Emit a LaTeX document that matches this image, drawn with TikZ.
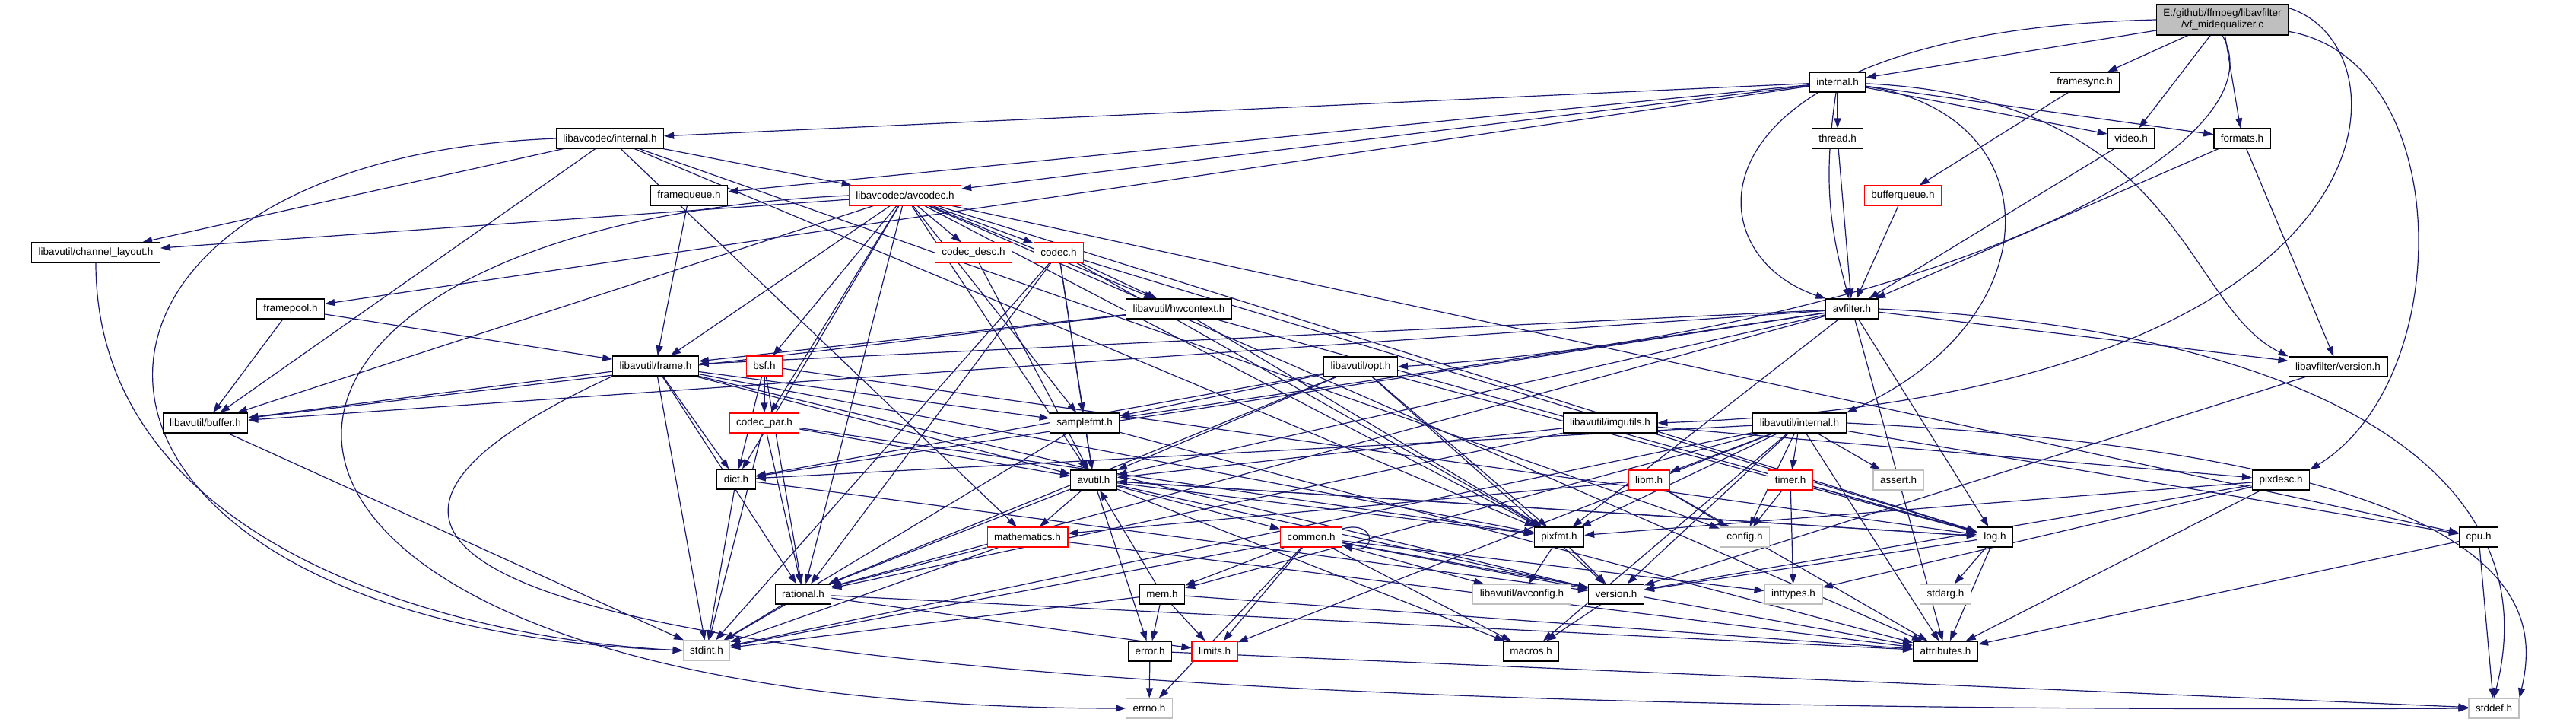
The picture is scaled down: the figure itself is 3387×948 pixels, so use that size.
\documentclass[tikz,border=0pt]{standalone}
\usepackage{fontspec}
\setmainfont{Liberation Sans}
\usetikzlibrary{arrows.meta,backgrounds}
\definecolor{edgeblue}{HTML}{191970}
\definecolor{nodered}{HTML}{FF0000}
\definecolor{nodegray}{HTML}{BFBFBF}

\begin{document}
\begin{tikzpicture}[x=1pt,y=-1pt,font=\fontsize{13.5}{15}\selectfont,
  file/.style={draw=black, fill=white, line width=1.2pt, inner xsep=9pt, inner ysep=0pt, minimum height=26pt},
  redfile/.style={file, draw=nodered},
  sysfile/.style={file, draw=nodegray},
  edge/.style={draw=edgeblue, line width=1.2pt, -{Triangle[length=13pt,width=9pt]}}]
  \useasboundingbox (0,0) rectangle (3387,948);
  % files, one row per rank
  \node[file, fill=nodegray, align=center, minimum height=40pt] (top) at (2922,26) {E:/github/ffmpeg/libavfilter\\/vf\_midequalizer.c};
  \node[file] (internal) at (2416,108) {internal.h};
  \node[file] (framesync) at (2741,108) {framesync.h};
  \node[file] (lavcinternal) at (802,182) {libavcodec/internal.h};
  \node[file] (thread) at (2416,182) {thread.h};
  \node[file] (video) at (2802,182) {video.h};
  \node[file] (formats) at (2948,182) {formats.h};
  \node[file] (framequeue) at (906,257) {framequeue.h};
  \node[redfile] (avcodec) at (1190,257) {libavcodec/avcodec.h};
  \node[redfile] (bufferqueue) at (2502,257) {bufferqueue.h};
  \node[file] (chlayout) at (126,332) {libavutil/channel\_layout.h};
  \node[redfile] (codecdesc) at (1280,332) {codec\_desc.h};
  \node[redfile] (codec) at (1392,332) {codec.h};
  \node[file] (framepool) at (382,406) {framepool.h};
  \node[file] (hwcontext) at (1550,406) {libavutil/hwcontext.h};
  \node[file] (avfilter) at (2435,406) {avfilter.h};
  \node[file] (frame) at (862,481) {libavutil/frame.h};
  \node[redfile] (bsf) at (1005,481) {bsf.h};
  \node[file] (opt) at (1789,482) {libavutil/opt.h};
  \node[file] (lavfiversion) at (3074,482) {libavfilter/version.h};
  \node[file] (buffer) at (270,556) {libavutil/buffer.h};
  \node[redfile] (codecpar) at (1005,556) {codec\_par.h};
  \node[file] (samplefmt) at (1426,556) {samplefmt.h};
  \node[file] (imgutils) at (2117,556) {libavutil/imgutils.h};
  \node[file] (lavuinternal) at (2366,556) {libavutil/internal.h};
  \node[file] (dict) at (968,630) {dict.h};
  \node[file] (avutil) at (1438,631) {avutil.h};
  \node[redfile] (libm) at (2168,631) {libm.h};
  \node[redfile] (timer) at (2354,631) {timer.h};
  \node[sysfile] (assert) at (2496,631) {assert.h};
  \node[file] (pixdesc) at (2999,631) {pixdesc.h};
  \node[redfile] (mathematics) at (1351,706) {mathematics.h};
  \node[redfile] (common) at (1724,706) {common.h};
  \node[file] (pixfmt) at (2050,706) {pixfmt.h};
  \node[sysfile] (config) at (2294,706) {config.h};
  \node[file] (log) at (2623,706) {log.h};
  \node[file] (cpu) at (3259,706) {cpu.h};
  \node[file] (rational) at (1056,781) {rational.h};
  \node[file] (mem) at (1528,781) {mem.h};
  \node[sysfile] (avconfig) at (2001,781) {libavutil/avconfig.h};
  \node[file] (version) at (2125,781) {version.h};
  \node[sysfile] (inttypes) at (2358,781) {inttypes.h};
  \node[sysfile] (stdarg) at (2558,781) {stdarg.h};
  \node[sysfile] (stdint) at (929,855) {stdint.h};
  \node[file] (error) at (1512,856) {error.h};
  \node[redfile] (limits) at (1597,856) {limits.h};
  \node[file] (macros) at (2013,856) {macros.h};
  \node[file] (attributes) at (2558,856) {attributes.h};
  \node[sysfile] (errno) at (1511,931) {errno.h};
  \node[sysfile] (stddef) at (3279,931) {stddef.h};

  \begin{scope}[on background layer]
  \fill[white] (0,0) rectangle (3387,948);
  % includes, grouped by including file
  \foreach \t in {internal,framesync,video,formats} \draw[edge] (top) -- (\t);
  \draw[edge] (top.west) .. controls (2215,40) and (2215,330) .. (avfilter.north west);
  \draw[edge] (top.south) .. controls (3010,200) and (2500,440) .. (opt.east);
  \draw[edge] (top.10) .. controls (3175,60) and (3175,520) .. (imgutils.east);
  \draw[edge] (top.-10) .. controls (3230,80) and (3230,500) .. (pixdesc.north east);
  \foreach \t in {thread,video,formats,framepool,framequeue,avcodec,lavcinternal} \draw[edge] (internal) -- (\t);
  \draw[edge] (internal) to[bend right=12] (avfilter);
  \draw[edge] (internal) .. controls (2700,150) and (2700,420) .. (lavuinternal.north east);
  \draw[edge] (internal) .. controls (2870,130) and (2870,400) .. (lavfiversion.north west);
  \draw[edge] (framesync) -- (bufferqueue);
  \draw[edge] (bufferqueue) -- (avfilter);
  \draw[edge] (thread) -- (avfilter);
  \draw[edge] (video) -- (avfilter);
  \foreach \t in {avfilter,lavfiversion} \draw[edge] (formats) -- (\t);
  \foreach \t in {buffer,chlayout,avcodec,mathematics,pixfmt,config} \draw[edge] (lavcinternal) -- (\t);
  \draw[edge] (lavcinternal.west) .. controls (0,210) and (0,820) .. (stdint.west);
  \draw[edge] (framequeue) -- (frame);
  \foreach \t in {buffer,frame} \draw[edge] (framepool) -- (\t);
  \foreach \t in {samplefmt,attributes,avutil,buffer,cpu,chlayout,dict,frame,hwcontext,log,pixfmt,rational,bsf,codec,codecdesc,codecpar} \draw[edge] (avcodec) -- (\t);
  \draw[edge] (avcodec.west) .. controls (175,300) and (175,930) .. (errno.west);
  \draw[edge] (chlayout.south) .. controls (126,720) and (600,840) .. (stdint.west);
  \draw[edge] (codecdesc) -- (avutil);
  \foreach \t in {stdint,avutil,hwcontext,log,pixfmt,rational,samplefmt} \draw[edge] (codec) -- (\t);
  \foreach \t in {buffer,frame,log,pixfmt} \draw[edge] (hwcontext) -- (\t);
  \foreach \t in {attributes,avutil,buffer,dict,frame,log,samplefmt,pixfmt,rational,lavfiversion} \draw[edge] (avfilter) -- (\t);
  \draw[edge] (avfilter.east) .. controls (3000,430) and (3360,600) .. (stddef.north);
  \foreach \t in {stdint,avutil,buffer,dict,rational,samplefmt,pixfmt,version} \draw[edge] (frame) -- (\t);
  \draw[edge] (frame.south west) .. controls (360,700) and (360,945) .. (stddef.west);
  \foreach \t in {dict,log,rational,codecpar} \draw[edge] (bsf) -- (\t);
  \foreach \t in {rational,avutil,dict,log,pixfmt,samplefmt,version} \draw[edge] (opt) -- (\t);
  \draw[edge] (lavfiversion) -- (version);
  \draw[edge] (buffer) -- (stdint);
  \foreach \t in {stdint,avutil,rational,pixfmt} \draw[edge] (codecpar) -- (\t);
  \foreach \t in {stdint,avutil,attributes} \draw[edge] (samplefmt) -- (\t);
  \foreach \t in {avutil,pixdesc,rational} \draw[edge] (imgutils) -- (\t);
  \foreach \t in {limits,stdint,assert,config,attributes,timer,cpu,dict,macros,mem,pixfmt,version,libm} \draw[edge] (lavuinternal) -- (\t);
  \draw[edge] (lavuinternal.east) .. controls (3330,600) and (3340,800) .. (stddef.north east);
  \foreach \t in {stdint,version} \draw[edge] (dict) -- (\t);
  \foreach \t in {common,error,rational,version,macros,mathematics,log,pixfmt} \draw[edge] (avutil) -- (\t);
  \foreach \t in {config,attributes,mathematics} \draw[edge] (libm) -- (\t);
  \foreach \t in {config,inttypes,log} \draw[edge] (timer) -- (\t);
  \foreach \t in {inttypes,attributes,pixfmt,version} \draw[edge] (pixdesc) -- (\t);
  \foreach \t in {stdint,attributes,rational} \draw[edge] (mathematics) -- (\t);
  \foreach \t in {errno,inttypes,limits,stdint,attributes,macros,version,avconfig,mem} \draw[edge] (common) -- (\t);
  \draw[edge] (common.15) .. controls +(45,-12) and +(45,12) .. (common.-15);
  \foreach \t in {avconfig,version} \draw[edge] (pixfmt) -- (\t);
  \foreach \t in {stdarg,avutil,attributes,version} \draw[edge] (log) -- (\t);
  \foreach \t in {stddef,attributes} \draw[edge] (cpu) -- (\t);
  \foreach \t in {stdint,limits,attributes} \draw[edge] (rational) -- (\t);
  \foreach \t in {limits,stdint,attributes,error,avutil} \draw[edge] (mem) -- (\t);
  \draw[edge] (version) -- (macros);
  \foreach \t in {errno,stddef} \draw[edge] (error) -- (\t);
  \end{scope}
\end{tikzpicture}
\end{document}
